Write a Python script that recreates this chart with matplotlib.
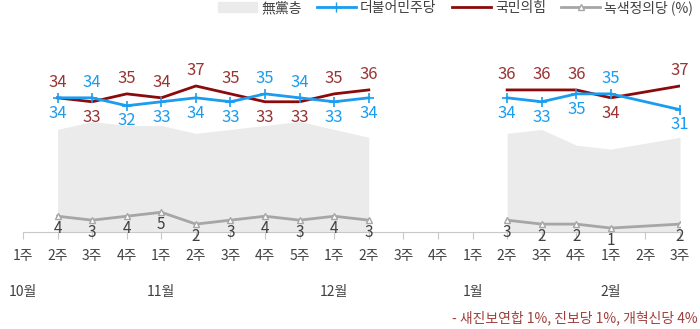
import numpy as np
import matplotlib
matplotlib.use('Agg')
import matplotlib.pyplot as plt
from matplotlib.patches import Patch
from matplotlib.lines import Line2D

plt.rcParams['font.family'] = ['Noto Sans CJK KR', 'DejaVu Sans']

weeks = ['1주', '2주', '3주', '4주', '1주', '2주', '3주', '4주', '5주', '1주',
         '2주', '3주', '4주', '1주', '2주', '3주', '4주', '1주', '2주', '3주']
month_pos = [0, 4, 9, 13, 17]
month_names = ['10월', '11월', '12월', '1월', '2월']

# survey rounds (index into weeks)
idx1 = [1, 2, 3, 4, 5, 6, 7, 8, 9, 10]
idx2 = [14, 15, 16, 17, 19]

dem1 = [34, 34, 32, 33, 34, 33, 35, 34, 33, 34]
ppp1 = [34, 33, 35, 34, 37, 35, 33, 33, 35, 36]
green1 = [4, 3, 4, 5, 2, 3, 4, 3, 4, 3]
indep1 = [26, 28, 27, 27, 25, 26, 27, 28, 26, 24]

dem2 = [34, 33, 35, 35, 31]
ppp2 = [36, 36, 36, 34, 37]
green2 = [3, 2, 2, 1, 2]
indep2 = [25, 26, 22, 21, 24]

c_blue = '#1a9cf0'
c_red = '#8b0a0a'
c_red_txt = '#9a3434'
c_gray = '#a6a6a6'
c_area = '#ebebeb'

fig = plt.figure(figsize=(7, 3.29), dpi=100)
ax = fig.add_axes([23/700, (329-232)/329, (680-23)/700, 221/329])
ax.set_xlim(0, 19)
ax.set_ylim(0, 56)

for idx, dem, ppp, green, indep in [(idx1, dem1, ppp1, green1, indep1),
                                    (idx2, dem2, ppp2, green2, indep2)]:
    ax.fill_between(idx, 0, indep, color=c_area, lw=0, zorder=1)
    ax.plot(idx, green, color=c_gray, lw=2, marker='^', ms=5,
            mfc='white', mec=c_gray, mew=1, zorder=3)
    ax.plot(idx, ppp, color=c_red, lw=2, zorder=4)
    ax.plot(idx, dem, color=c_blue, lw=2, marker='+', ms=7, mew=1.2, zorder=5)
    for x, d, p, g in zip(idx, dem, ppp, green):
        if p >= d:
            up, dn = (p, c_red_txt), (d, c_blue)
        else:
            up, dn = (d, c_blue), (p, c_red_txt)
        ax.annotate(str(up[0]), (x, up[0]), xytext=(0, 11), textcoords='offset points',
                    ha='center', va='center', color=up[1], fontsize=12)
        ax.annotate(str(dn[0]), (x, dn[0]), xytext=(0, -11), textcoords='offset points',
                    ha='center', va='center', color=dn[1], fontsize=12)
        ax.annotate(str(g), (x, g), xytext=(0, -9), textcoords='offset points',
                    ha='center', va='center', color='#404040', fontsize=11)

for s in ['top', 'right', 'left']:
    ax.spines[s].set_visible(False)
ax.spines['bottom'].set_color('#c8c8c8')
ax.set_yticks([])
ax.set_xticks(range(len(weeks)))
ax.set_xticklabels(weeks, fontsize=10, color='#404040')
ax.tick_params(axis='x', length=5, color='#c8c8c8', pad=7)

for p, m in zip(month_pos, month_names):
    ax.annotate(m, (p, 0), xycoords=('data', 'axes fraction'), xytext=(0, -43),
                textcoords='offset points', ha='center', va='center',
                fontsize=10, color='#404040')

fig.text(0.996, (329-318)/329, '- 새진보연합 1%, 진보당 1%, 개혁신당 4%',
         ha='right', va='center', fontsize=10, color='#a0403c')

handles = [Patch(color=c_area),
           Line2D([], [], color=c_blue, lw=2, marker='+', ms=7),
           Line2D([], [], color=c_red, lw=2),
           Line2D([], [], color=c_gray, lw=2, marker='^', ms=5, mfc='white')]
labels = ['無黨층', '더불어민주당', '국민의힘', '녹색정의당 (%)']
fig.legend(handles, labels, loc='upper right', bbox_to_anchor=(1.0, 1.02), ncol=4,
           frameon=False, fontsize=10, handlelength=2.8, handletextpad=0.3,
           columnspacing=1.1, borderaxespad=0.1, labelcolor='#404040')

fig.savefig('out.png', dpi=100)
